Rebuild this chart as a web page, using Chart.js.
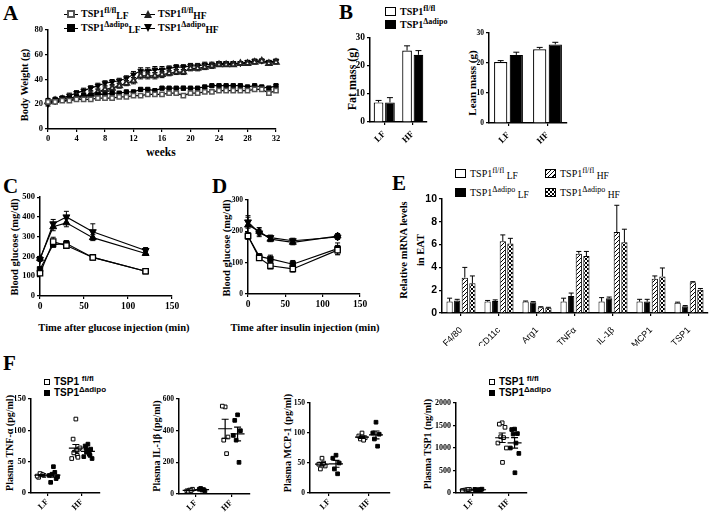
<!DOCTYPE html>
<html>
<head>
<meta charset="utf-8">
<script src="https://cdn.jsdelivr.net/npm/chart.js@4.4.0/dist/chart.umd.min.js"></script>
<style>
  body { margin: 0; background: #fff; width: 711px; height: 512px; position: relative; overflow: hidden; font-family: "Liberation Serif", "Times New Roman", serif; color: #000; }
  .box { position: absolute; }
  .letter { position: absolute; font-weight: bold; font-size: 21px; line-height: 1; }
  .leg { position: absolute; white-space: nowrap; line-height: 12px; color: #000; }
  .serifb { font-weight: bold; font-size: 10px; }
  .serifr { font-size: 10px; }
  .sansb { font-family: "Liberation Sans", Arial, sans-serif; font-weight: bold; font-size: 10px; }
  sup { font-size: 0.8em; vertical-align: 0.45em; line-height: 0; }
  sub { font-size: 0.95em; vertical-align: -0.2em; line-height: 0; }
  .mk { display: inline-block; position: relative; width: 14px; height: 8px; margin-right: 3px; vertical-align: -1px; }
  .mk .ln { position: absolute; left: 0; right: 0; top: 4px; border-top: 1px solid #000; }
  .mk .m { position: absolute; left: 3px; top: 0; width: 8px; height: 8px; box-sizing: border-box; }
  .sqo { border: 2px solid #555; background: #fff; }
  .sqf { background: #000; }
  .tri { background: #222; clip-path: polygon(50% 0, 100% 100%, 0 100%); }
  .itri { background: #000; clip-path: polygon(0 0, 100% 0, 50% 100%); }
  .bx { display: inline-block; width: 11px; height: 9px; border: 1px solid #000; margin-right: 4px; vertical-align: -1px; box-sizing: border-box; }
  .bw { background: #fff; }
  .bk { background: #000; }
  .bh { background: repeating-linear-gradient(135deg, #000 0 1px, #fff 1px 3px); }
  .bc { background-image: conic-gradient(#000 25%, #fff 0 50%, #000 0 75%, #fff 0); background-size: 4px 4px; }
  .dot { display: inline-block; width: 6px; height: 6px; box-sizing: border-box; margin-right: 4px; vertical-align: 0; }
  .dotw { border: 1px solid #000; background: #fff; }
  .dotk { background: #000; }
  .yt, .xt { position: absolute; white-space: nowrap; font-weight: bold; line-height: 1; color: #000; }
  .yt { transform: translate(-50%, -50%) rotate(-90deg); }
  .xt { transform: translate(-50%, -50%); }
</style>
</head>
<body>

<div class="letter" style="left:3px;top:3px">A</div>
<div class="letter" style="left:339px;top:2px">B</div>
<div class="letter" style="left:3px;top:176px">C</div>
<div class="letter" style="left:212px;top:176px">D</div>
<div class="letter" style="left:392px;top:173px">E</div>
<div class="letter" style="left:3px;top:353px">F</div>

<div class="leg serifb" style="left:64px;top:8px"><span class="mk"><i class="ln"></i><i class="m sqo"></i></span>TSP1<sup>fl/fl</sup><sub>LF</sub></div>
<div class="leg serifb" style="left:141px;top:8px"><span class="mk"><i class="ln"></i><i class="m tri"></i></span>TSP1<sup>fl/fl</sup><sub>HF</sub></div>
<div class="leg serifb" style="left:64px;top:22px"><span class="mk"><i class="ln"></i><i class="m sqf"></i></span>TSP1<sup>Δadipo</sup><sub>LF</sub></div>
<div class="leg serifb" style="left:141px;top:22px"><span class="mk"><i class="ln"></i><i class="m itri"></i></span>TSP1<sup>Δadipo</sup><sub>HF</sub></div>

<div class="leg serifb" style="left:385px;top:6px"><span class="bx bw"></span>TSP1<sup>fl/fl</sup></div>
<div class="leg serifb" style="left:385px;top:19px"><span class="bx bk"></span>TSP1<sup>Δadipo</sup></div>

<div class="leg serifr" style="left:455px;top:168px"><span class="bx bw"></span>TSP1<sup>fl/fl</sup> <sub>LF</sub></div>
<div class="leg serifr" style="left:545px;top:168px"><span class="bx bh"></span>TSP1<sup>fl/fl</sup> <sub>HF</sub></div>
<div class="leg serifr" style="left:455px;top:187px"><span class="bx bk"></span>TSP1<sup>Δadipo</sup> <sub>LF</sub></div>
<div class="leg serifr" style="left:545px;top:187px"><span class="bx bc"></span>TSP1<sup>Δadipo</sup> <sub>HF</sub></div>

<div class="leg sansb" style="left:44px;top:376px"><span class="dot dotw"></span>TSP1 <sup>fl/fl</sup></div>
<div class="leg sansb" style="left:44px;top:387px"><span class="dot dotk"></span>TSP1<sup>Δadipo</sup></div>
<div class="leg sansb" style="left:489px;top:376px"><span class="dot dotw"></span>TSP1 <sup>fl/fl</sup></div>
<div class="leg sansb" style="left:489px;top:387px"><span class="dot dotk"></span>TSP1<sup>Δadipo</sup></div>

<!-- axis titles -->
<div class="yt" style="left:25px;top:85px;font-size:10.5px">Body Weight (g)</div>
<div class="xt" style="left:161px;top:153px;font-size:11.5px">weeks</div>
<div class="yt" style="left:352px;top:79px;font-size:12px">Fat mass (g)</div>
<div class="yt" style="left:472px;top:83px;font-size:11px">Lean mass (g)</div>
<div class="yt" style="left:15px;top:247px;font-size:10.5px">Blood glucose (mg/dl)</div>
<div class="xt" style="left:114px;top:328px;font-size:10.5px">Time after glucose injection (min)</div>
<div class="yt" style="left:227px;top:248px;font-size:10.5px">Blood glucose (mg/dl)</div>
<div class="xt" style="left:305px;top:328px;font-size:10.5px">Time after insulin injection (min)</div>
<div class="yt" style="left:404px;top:250px;font-size:10.5px">Relative mRNA levels</div>
<div class="yt" style="left:421px;top:250px;font-size:10.5px">in EAT</div>
<div class="yt" style="left:10px;top:443px;font-size:10px">Plasma TNF-α (pg/ml)</div>
<div class="yt" style="left:157px;top:446px;font-size:10px">Plasma IL-1β (pg/ml)</div>
<div class="yt" style="left:288px;top:443px;font-size:10px">Plasma MCP-1 (pg/ml)</div>
<div class="yt" style="left:428px;top:444px;font-size:10px">Plasma TSP1 (ng/ml)</div>

<script>
// ---- data: A, body weight ----
const weeks = [0,1,2,3,4,5,6,7,8,9,10,11,12,13,14,15,16,17,18,19,20,21,22,23,24,25,26,27,28,29,30,31,32];
const bwFlLF = [22,22,23,23,24,24,24,25,25,25,26,26,27,27,28,28,28,29,29,27,29,29,30,30,31,31,31,31,31,32,32,29,31];
const bwKoLF = [23,24,25,25,26,27,27,28,28,29,29,30,30,32,32,31,33,33,33,33,33,33,34,35,35,35,35,35,34,35,34,33,35];
const bwFlHF = [22,23,24,25,26,27,28,30,32,33,35,37,39,43,43,43,44,45,46,46,49,49,50,51,52,52,52,53,53,54,55,53,54];
const bwKoHF = [20,22,25,27,29,31,33,35,37,38,39,41,44,47,47,48,48,49,50,50,51,51,52,52,53,53,53,53,54,55,55,54,55];
const bwLFErr = [1,1,1,1,1,1,1,1,1,1,1,1,1,1,1,1,1,1,1,1.5,1,1,1,1,1,1,1,1,1,1,1,1.5,1];
const bwHFErr = [1.5,1.5,1.5,2,2,2,2,2,2,2,2,2,2.5,2.5,2.5,2.5,2.5,2,2,2,2,2,2,2,1.5,1.5,1.5,1.5,1.5,1.5,1.5,1.5,1.5];

// ---- B, body composition ----
const dietGroups = ['LF', 'HF'];
const fatFl = [7.0, 25.5], fatFlErr = [0.7, 1.7];
const fatKo = [7.0, 24.0], fatKoErr = [1.7, 1.5];
const leanFl = [20.3, 24.6], leanFlErr = [0.5, 0.6];
const leanKo = [22.7, 26.2], leanKoErr = [0.9, 0.7];

// ---- C, GTT ----
const gttTimes = [0, 15, 30, 60, 120];
const gttFlLF = [115, 275, 255, 195, 125], gttFlLFErr = [10, 22, 12, 8, 6];
const gttKoLF = [135, 260, 265, 195, 125], gttKoLFErr = [10, 12, 15, 8, 6];
const gttFlHF = [190, 350, 370, 295, 215], gttFlHFErr = [10, 20, 20, 15, 10];
const gttKoHF = [185, 365, 400, 325, 230], gttKoHFErr = [10, 22, 28, 40, 15];

// ---- D, ITT ----
const ittTimes = [0, 15, 30, 60, 120];
const ittFlLF = [185, 115, 90, 80, 140], ittFlLFErr = [10, 8, 10, 10, 15];
const ittKoLF = [185, 120, 112, 95, 145], ittKoLFErr = [10, 8, 12, 12, 18];
const ittFlHF = [220, 200, 175, 165, 185], ittFlHFErr = [25, 12, 8, 8, 8];
const ittKoHF = [230, 195, 180, 170, 182], ittKoHFErr = [20, 12, 8, 8, 8];

// ---- E, mRNA in EAT ----
const genes = ['F4/80', 'CD11c', 'Arg1', 'TNFα', 'IL-1β', 'MCP1', 'TSP1'];
const mrnaFlLF = [1.0, 1.0, 1.0, 1.0, 1.0, 1.0, 0.9], mrnaFlLFErr = [0.3, 0.1, 0.05, 0.3, 0.35, 0.2, 0.05];
const mrnaKoLF = [1.1, 1.05, 0.95, 1.5, 1.3, 1.0, 0.6], mrnaKoLFErr = [0.1, 0.1, 0.05, 0.25, 0.1, 0.2, 0.05];
const mrnaFlHF = [3.1, 6.3, 0.5, 5.2, 7.1, 3.0, 2.7], mrnaFlHFErr = [0.9, 0.55, 0.05, 0.2, 2.35, 0.25, 0.05];
const mrnaKoHF = [2.6, 6.1, 0.45, 5.0, 6.2, 3.2, 2.05], mrnaKoHFErr = [0.65, 0.45, 0.05, 0.4, 1.15, 0.75, 0.1];

// ---- F, plasma cytokines (individual mice) ----
const tnfFlLF = [30, 25, 28, 31, 29, 27], tnfKoLF = [42, 17, 23, 30, 33, 28, 26];
const tnfFlHF = [118, 86, 70, 65, 60, 55, 72, 68, 64, 57], tnfKoHF = [78, 75, 70, 65, 62, 58, 55, 68, 72, 60];
const il1FlLF = [25, 20, 30, 18, 22], il1KoLF = [25, 30, 20, 35, 28];
const il1FlHF = [550, 555, 360, 340, 255], il1KoHF = [500, 465, 400, 340, 200, 370];
const mcpFlLF = [58, 48, 45, 40, 50], mcpKoLF = [63, 58, 50, 40, 32];
const mcpFlHF = [100, 95, 92, 90, 88], mcpKoHF = [118, 100, 98, 90, 78];
const tspFlLF = [70, 60, 80, 65, 75, 55], tspKoLF = [75, 65, 85, 60, 70, 80];
const tspFlHF = [1560, 1530, 1460, 1250, 1230, 1110, 1000, 680], tspKoHF = [1420, 1410, 1320, 1310, 1110, 1000, 880, 450];

const serif = "'Liberation Serif', 'Times New Roman', serif";
const sans = "'Liberation Sans', Arial, sans-serif";

const errorBars = {
  id: 'errorBars',
  beforeDatasetsDraw(chart) {
    const ctx = chart.ctx, ys = chart.scales.y;
    chart.data.datasets.forEach((ds, i) => {
      if (!ds.errors) return;
      const meta = chart.getDatasetMeta(i);
      ctx.save();
      ctx.strokeStyle = '#000';
      ctx.lineWidth = 1;
      meta.data.forEach((el, j) => {
        const v = ds.data[j], e = ds.errors[j];
        const top = ys.getPixelForValue(v + e), bot = ys.getPixelForValue(v - e);
        const cap = ds.cap || 3;
        ctx.beginPath();
        ctx.moveTo(el.x, ds.upOnly ? el.y : bot);
        ctx.lineTo(el.x, top);
        ctx.moveTo(el.x - cap, top); ctx.lineTo(el.x + cap, top);
        if (!ds.upOnly) { ctx.moveTo(el.x - cap, bot); ctx.lineTo(el.x + cap, bot); }
        ctx.stroke();
      });
      ctx.restore();
    });
  }
};

const meanSem = {
  id: 'meanSem',
  afterDatasetsDraw(chart) {
    const ctx = chart.ctx, xs = chart.scales.x, ys = chart.scales.y;
    chart.data.datasets.forEach(ds => {
      const vals = ds.data.map(p => p.y);
      const n = vals.length;
      const m = vals.reduce((a, b) => a + b, 0) / n;
      const sd = Math.sqrt(vals.reduce((a, b) => a + (b - m) * (b - m), 0) / (n - 1));
      const se = sd / Math.sqrt(n);
      const cx = xs.getPixelForValue(ds.center);
      const ym = ys.getPixelForValue(m), yt = ys.getPixelForValue(m + se), yb = ys.getPixelForValue(m - se);
      ctx.save();
      ctx.strokeStyle = '#000';
      ctx.lineWidth = 1.2;
      ctx.beginPath();
      ctx.moveTo(cx - 7, ym); ctx.lineTo(cx + 7, ym);
      ctx.moveTo(cx, yt); ctx.lineTo(cx, yb);
      ctx.moveTo(cx - 3.5, yt); ctx.lineTo(cx + 3.5, yt);
      ctx.moveTo(cx - 3.5, yb); ctx.lineTo(cx + 3.5, yb);
      ctx.stroke();
      ctx.restore();
    });
  }
};

function hatchPattern() {
  const c = document.createElement('canvas');
  c.width = 4; c.height = 4;
  const g = c.getContext('2d');
  g.fillStyle = '#fff'; g.fillRect(0, 0, 4, 4);
  g.strokeStyle = '#000'; g.lineWidth = 1;
  g.beginPath();
  g.moveTo(0, 4); g.lineTo(4, 0);
  g.moveTo(-1, 1); g.lineTo(1, -1);
  g.moveTo(3, 5); g.lineTo(5, 3);
  g.stroke();
  return g.createPattern(c, 'repeat');
}

function checkerPattern() {
  const c = document.createElement('canvas');
  c.width = 4; c.height = 4;
  const g = c.getContext('2d');
  g.fillStyle = '#fff'; g.fillRect(0, 0, 4, 4);
  g.fillStyle = '#000';
  g.fillRect(0, 0, 2, 2); g.fillRect(2, 2, 2, 2);
  return g.createPattern(c, 'repeat');
}

function axis(o) {
  const s = {
    type: o.type || 'linear',
    ticks: Object.assign({ color: '#000', padding: 2, font: o.font }, o.ticks || {}),
    grid: { display: true, drawOnChartArea: false, drawTicks: true, tickLength: 3, color: '#000', lineWidth: 1.2, offset: false },
    border: { display: true, color: '#000', width: 1.5 },
    title: { display: false }
  };
  if (s.type === 'linear' && !s.ticks.callback) s.ticks.callback = v => String(v);
  if (o.min !== undefined) s.min = o.min;
  if (o.max !== undefined) s.max = o.max;
  if (o.afterBuildTicks) s.afterBuildTicks = o.afterBuildTicks;
  return s;
}

function makeChart(box, plot, cfg) {
  const div = document.createElement('div');
  div.className = 'box';
  div.style.left = box.x + 'px';
  div.style.top = box.y + 'px';
  const cv = document.createElement('canvas');
  cv.width = box.w; cv.height = box.h;
  cv.style.width = box.w + 'px'; cv.style.height = box.h + 'px';
  div.appendChild(cv);
  document.body.appendChild(div);
  const o = cfg.options;
  o.responsive = false;
  o.animation = false;
  o.layout = { autoPadding: false, padding: { left: 0, bottom: 0, top: plot.t - box.y, right: box.x + box.w - plot.r } };
  o.plugins = { legend: { display: false }, tooltip: { enabled: false } };
  o.scales.x.afterFit = s => { s.height = box.y + box.h - plot.b; };
  o.scales.y.afterFit = s => { s.width = plot.l - box.x; };
  return new Chart(cv, cfg);
}

function lineSet(data, errors, style, fill, border, radius, bw, rot) {
  return {
    data, errors, pointStyle: style, pointRotation: rot || 0, pointRadius: radius,
    pointBackgroundColor: fill, pointBorderColor: border, pointBorderWidth: bw,
    borderColor: '#000', borderWidth: 1.2, fill: false, tension: 0, clip: false, cap: 2.5
  };
}

// ---- A ----
makeChart({ x: 28, y: 20, w: 257, h: 130 }, { l: 48, t: 30, r: 276, b: 129 }, {
  type: 'line',
  data: {
    labels: weeks,
    datasets: [
      lineSet(bwFlLF, bwLFErr, 'rect', '#fff', '#555', 3, 1.5),
      lineSet(bwKoLF, bwLFErr, 'rect', '#000', '#000', 3, 1),
      lineSet(bwFlHF, bwHFErr, 'triangle', '#fff', '#222', 3.2, 1.8),
      lineSet(bwKoHF, bwHFErr, 'triangle', '#000', '#000', 3.2, 1, 180)
    ]
  },
  options: {
    scales: {
      x: axis({ min: 0, max: 32, ticks: { stepSize: 4 }, font: { family: serif, size: 8.5, weight: 'bold' } }),
      y: axis({ min: 0, max: 80, ticks: { stepSize: 20 }, font: { family: serif, size: 8.5, weight: 'bold' } })
    }
  },
  plugins: [errorBars]
});

// ---- B ----
function massChart(box, plot, fl, flErr, ko, koErr, tickSize) {
  makeChart(box, plot, {
    type: 'bar',
    data: {
      labels: dietGroups,
      datasets: [
        { data: fl, errors: flErr, upOnly: true, cap: 3, backgroundColor: '#fff', borderColor: '#000', borderWidth: 1.2, categoryPercentage: 0.8, barPercentage: 0.85 },
        { data: ko, errors: koErr, upOnly: true, cap: 3, backgroundColor: '#000', borderColor: '#000', borderWidth: 1.2, categoryPercentage: 0.8, barPercentage: 0.85 }
      ]
    },
    options: {
      scales: {
        x: axis({ type: 'category', ticks: { minRotation: 45, maxRotation: 45, padding: 4 }, font: { family: serif, size: 9, weight: 'bold' } }),
        y: axis({ min: 0, max: 30, ticks: { stepSize: 10 }, font: { family: serif, size: tickSize, weight: 'bold' } })
      }
    },
    plugins: [errorBars]
  });
}
massChart({ x: 356, y: 30, w: 78, h: 115 }, { l: 370, t: 38, r: 427, b: 122 }, fatFl, fatFlErr, fatKo, fatKoErr, 9.5);
massChart({ x: 476, y: 25, w: 98, h: 120 }, { l: 489, t: 33, r: 567, b: 123 }, leanFl, leanFlErr, leanKo, leanKoErr, 7.5);

// ---- C and D ----
function curveChart(box, plot, times, sets, yMax, yStep, yTick) {
  makeChart(box, plot, {
    type: 'line',
    data: {
      labels: times,
      datasets: [
        lineSet(sets[0], sets[1], 'rect', '#fff', '#000', 3.8, 1.3),
        lineSet(sets[2], sets[3], 'rect', '#000', '#000', 3.8, 1),
        lineSet(sets[4], sets[5], 'triangle', '#000', '#000', 4, 1),
        lineSet(sets[6], sets[7], 'triangle', '#000', '#000', 4, 1, 180)
      ]
    },
    options: {
      scales: {
        x: axis({ min: 0, max: 150, ticks: { stepSize: 50 }, font: { family: serif, size: 9.5, weight: 'bold' } }),
        y: axis({ min: 0, max: yMax, ticks: { stepSize: yStep }, font: { family: serif, size: yTick, weight: 'bold' } })
      }
    },
    plugins: [errorBars]
  });
}
curveChart({ x: 20, y: 190, w: 168, h: 125 }, { l: 40, t: 197, r: 172, b: 296 }, gttTimes,
  [gttFlLF, gttFlLFErr, gttKoLF, gttKoLFErr, gttFlHF, gttFlHFErr, gttKoHF, gttKoHFErr], 500, 100, 8.5);
curveChart({ x: 230, y: 190, w: 145, h: 125 }, { l: 248, t: 200, r: 360, b: 294 }, ittTimes,
  [ittFlLF, ittFlLFErr, ittKoLF, ittKoLFErr, ittFlHF, ittFlHFErr, ittKoHF, ittKoHFErr], 300, 100, 7.5);

// ---- E ----
function mrnaSet(data, errors, fill) {
  return { data, errors, upOnly: true, cap: 2.5, backgroundColor: fill, borderColor: '#000', borderWidth: 1, categoryPercentage: 0.8, barPercentage: 0.82 };
}
makeChart({ x: 425, y: 190, w: 286, h: 156 }, { l: 442, t: 199, r: 708, b: 313 }, {
  type: 'bar',
  data: {
    labels: genes,
    datasets: [
      mrnaSet(mrnaFlLF, mrnaFlLFErr, '#fff'),
      mrnaSet(mrnaKoLF, mrnaKoLFErr, '#000'),
      mrnaSet(mrnaFlHF, mrnaFlHFErr, hatchPattern()),
      mrnaSet(mrnaKoHF, mrnaKoHFErr, checkerPattern())
    ]
  },
  options: {
    scales: {
      x: axis({ type: 'category', ticks: { minRotation: 45, maxRotation: 45, padding: 9 }, font: { family: sans, size: 9 } }),
      y: axis({ min: 0, max: 10, ticks: { stepSize: 2 }, font: { family: sans, size: 10.5, weight: 'bold' } })
    }
  },
  plugins: [errorBars]
});

// ---- F ----
const groupPos = [0.6, 1.3, 2.6, 3.3];
const spread = [0, -0.16, 0.16, -0.08, 0.08, -0.24, 0.24, 0.02, -0.12, 0.12];
function dotSet(vals, i, filled) {
  return {
    data: vals.map((v, k) => ({ x: groupPos[i] + spread[k % spread.length], y: v })),
    center: groupPos[i],
    pointStyle: 'rect', pointRadius: 2.6,
    pointBackgroundColor: filled ? '#000' : '#fff', pointBorderColor: '#000', pointBorderWidth: 1, clip: false
  };
}
function plasmaChart(box, plot, sets, yMax, yStep, yTick) {
  makeChart(box, plot, {
    type: 'scatter',
    data: { datasets: [dotSet(sets[0], 0, false), dotSet(sets[1], 1, true), dotSet(sets[2], 2, false), dotSet(sets[3], 3, true)] },
    options: {
      scales: {
        x: axis({ min: 0, max: 4, afterBuildTicks: s => { s.ticks = [{ value: 0.95 }, { value: 2.95 }]; },
          ticks: { minRotation: 45, maxRotation: 45, autoSkip: false, padding: 1, callback: (v, i) => dietGroups[i] },
          font: { family: serif, size: 8.5, weight: 'bold' } }),
        y: axis({ min: 0, max: yMax, ticks: { stepSize: yStep }, font: { family: serif, size: yTick, weight: 'bold' } })
      }
    },
    plugins: [meanSem]
  });
}
plasmaChart({ x: 15, y: 390, w: 88, h: 122 }, { l: 31, t: 399, r: 100, b: 493 }, [tnfFlLF, tnfKoLF, tnfFlHF, tnfKoHF], 150, 50, 8.5);
plasmaChart({ x: 162, y: 390, w: 93, h: 122 }, { l: 179, t: 399, r: 250, b: 494 }, [il1FlLF, il1KoLF, il1FlHF, il1KoHF], 600, 200, 7.5);
plasmaChart({ x: 293, y: 390, w: 102, h: 122 }, { l: 310, t: 403, r: 390, b: 493 }, [mcpFlLF, mcpKoLF, mcpFlHF, mcpKoHF], 150, 50, 7.5);
plasmaChart({ x: 433, y: 390, w: 98, h: 122 }, { l: 456, t: 403, r: 527, b: 493 }, [tspFlLF, tspKoLF, tspFlHF, tspKoHF], 2000, 500, 8);
</script>
</body>
</html>
